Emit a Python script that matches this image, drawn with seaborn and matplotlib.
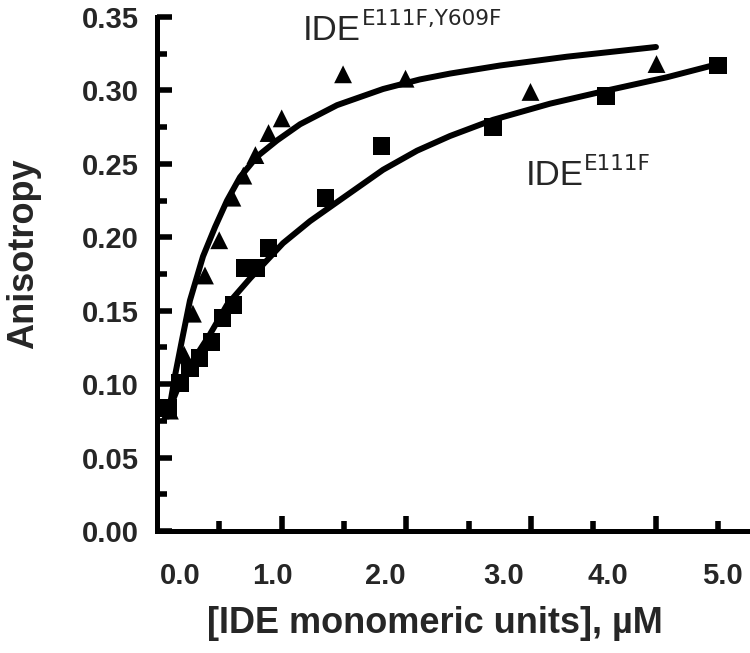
import numpy as np
import pandas as pd
import seaborn as sns
import matplotlib.pyplot as plt

sns.set_style("ticks")
plt.rcParams['font.family'] = ['Liberation Sans', 'DejaVu Sans']

# IDE E111F,Y609F (triangles)
tri_x = [0.02, 0.15, 0.23, 0.34, 0.47, 0.59, 0.69, 0.80, 0.92, 1.04, 1.60, 2.17, 3.31, 4.46]
tri_y = [0.082, 0.120, 0.148, 0.174, 0.198, 0.227, 0.242, 0.256, 0.271, 0.281, 0.311, 0.308, 0.299, 0.318]

# IDE E111F (squares)
sq_x = [0.00, 0.11, 0.20, 0.29, 0.40, 0.50, 0.60, 0.70, 0.81, 0.92, 1.44, 1.95, 2.97, 4.00, 5.02]
sq_y = [0.084, 0.101, 0.111, 0.118, 0.129, 0.145, 0.154, 0.179, 0.179, 0.193, 0.227, 0.262, 0.275, 0.296, 0.317]

# fitted curves
fit_tri_x = [0.003, 0.067, 0.130, 0.203, 0.322, 0.432, 0.541, 0.660, 0.815, 0.998, 1.208,
             1.545, 1.965, 2.300, 2.576, 3.032, 3.643, 4.455]
fit_tri_y = [0.078, 0.106, 0.130, 0.157, 0.187, 0.207, 0.225, 0.241, 0.255, 0.266, 0.277,
             0.290, 0.301, 0.3075, 0.3115, 0.317, 0.3230, 0.3296]
fit_sq_x = [0.003, 0.112, 0.230, 0.386, 0.541, 0.751, 1.052, 1.298, 1.572, 1.965, 2.275,
            2.576, 2.968, 3.488, 4.008, 4.555, 5.021]
fit_sq_y = [0.081, 0.101, 0.116, 0.134, 0.154, 0.172, 0.196, 0.211, 0.2254, 0.246, 0.259,
            0.269, 0.280, 0.291, 0.300, 0.309, 0.318]

x_labels = ["0.0", "1.0", "2.0", "3.0", "4.0", "5.0"]
x_label_pos = [0.114, 0.954, 1.985, 3.062, 4.020, 5.060]

pts = pd.concat([
    pd.DataFrame({"x": tri_x, "y": tri_y, "s": "tri"}),
    pd.DataFrame({"x": sq_x, "y": sq_y, "s": "sq"}),
])
fits = pd.concat([
    pd.DataFrame({"x": fit_tri_x, "y": fit_tri_y, "s": "tri"}),
    pd.DataFrame({"x": fit_sq_x, "y": fit_sq_y, "s": "sq"}),
])

fig = plt.figure(figsize=(7.5, 6.53), dpi=100)
ax = fig.add_axes([0.2093, 0.1868, 0.7907, 0.7871])

sns.lineplot(data=fits, x="x", y="y", units="s", estimator=None, sort=False,
             color="black", lw=4.3, ax=ax, legend=False)
sns.scatterplot(data=pts, x="x", y="y", style="s", markers={"tri": "^", "sq": "s"},
                color="black", s=165, linewidth=0, ax=ax, legend=False, zorder=3)

xmin, xmax = -0.098, 5.313
ax.set_xlim(xmin, xmax)
ax.set_ylim(0, 0.35)

sns.despine(ax=ax)
for sp in ["left", "bottom"]:
    ax.spines[sp].set_linewidth(3.6)
    ax.spines[sp].set_color("black")

ax.set_yticks(np.arange(0, 0.351, 0.05))
ax.set_yticklabels([f"{v:.2f}" for v in np.arange(0, 0.351, 0.05)], fontweight="bold")
ax.set_yticks(np.arange(0.025, 0.35, 0.05), minor=True)
ax.tick_params(axis="y", which="major", direction="in", length=11, width=4, pad=13,
               labelsize=21, color="black")
ax.tick_params(axis="y", which="minor", direction="in", length=7, width=4, color="black")

# tick marks on the x axis do not line up with the labels in the original
step = 0.569
ax.set_xticks([xmin + step * k for k in (2, 4, 6, 8)])
ax.set_xticks([xmin + step * k for k in (1, 3, 5, 7, 9)], minor=True)
ax.tick_params(axis="x", which="major", direction="in", length=11, width=4,
               labelbottom=False, color="black")
ax.tick_params(axis="x", which="minor", direction="in", length=7, width=4, color="black")

sec = ax.secondary_xaxis("bottom")
sec.set_xticks(x_label_pos)
sec.set_xticklabels(x_labels, fontweight="bold")
sec.tick_params(axis="x", length=0, pad=22, labelsize=21)
sec.spines["bottom"].set_visible(False)

ax.set_xlabel("[IDE monomeric units], \u00b5M", fontsize=26, fontweight="bold")
ax.set_ylabel("Anisotropy", fontsize=26, fontweight="bold")
ax.xaxis.set_label_coords(0.469, -0.146)
ax.yaxis.set_label_coords(-0.196, 0.54)

ax.text(1.234, 0.3344, "IDE", fontsize=25, va="baseline")
ax.text(1.774, 0.3446, "E111F,Y609F", fontsize=15.5, family="DejaVu Sans", va="baseline")
ax.text(3.270, 0.2356, "IDE", fontsize=25, va="baseline")
ax.text(3.798, 0.2458, "E111F", fontsize=15.5, family="DejaVu Sans", va="baseline")

fig.savefig("out.png", dpi=100)
